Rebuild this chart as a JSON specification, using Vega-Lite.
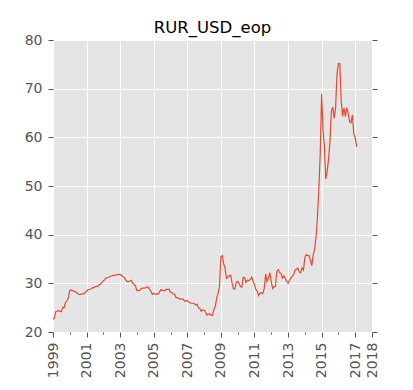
{
  "$schema": "https://vega.github.io/schema/vega-lite/v6.json",
  "autosize": {"type": "none"},
  "width": 319,
  "height": 292,
  "padding": {"left": 53, "top": 40, "right": 41, "bottom": 58},
  "background": "white",
  "config": {
    "font": "DejaVu Sans",
    "view": {"fill": "#E5E5E5", "stroke": null},
    "axis": {"domain": false, "gridColor": "white", "gridOpacity": 1, "gridWidth": 1, "tickColor": "#555555", "labelColor": "#555555", "labelFontSize": 14, "labelFont": "DejaVu Sans", "tickSize": 5}
  },
  "title": {"text": "RUR_USD_eop", "fontSize": 16.5, "fontWeight": "normal", "color": "black", "font": "DejaVu Sans", "anchor": "middle", "offset": 7, "dy": 10},
  "data": {"values": [
    {"d":"1999-01-01","v":22.6},{"d":"1999-02-01","v":22.86},{"d":"1999-03-01","v":24.18},{"d":"1999-04-01","v":24.23},{"d":"1999-05-01","v":24.44},{"d":"1999-06-01","v":24.22},{"d":"1999-07-01","v":24.19},{"d":"1999-08-01","v":25.08},{"d":"1999-09-01","v":25.08},{"d":"1999-10-01","v":26.05},{"d":"1999-11-01","v":26.42},{"d":"1999-12-01","v":27.0},
    {"d":"2000-01-01","v":28.55},{"d":"2000-02-01","v":28.66},{"d":"2000-03-01","v":28.46},{"d":"2000-04-01","v":28.4},{"d":"2000-05-01","v":28.26},{"d":"2000-06-01","v":28.07},{"d":"2000-07-01","v":27.8},{"d":"2000-08-01","v":27.75},{"d":"2000-09-01","v":27.75},{"d":"2000-10-01","v":27.84},{"d":"2000-11-01","v":27.85},{"d":"2000-12-01","v":28.16},
    {"d":"2001-01-01","v":28.37},{"d":"2001-02-01","v":28.72},{"d":"2001-03-01","v":28.73},{"d":"2001-04-01","v":28.84},{"d":"2001-05-01","v":29.07},{"d":"2001-06-01","v":29.07},{"d":"2001-07-01","v":29.27},{"d":"2001-08-01","v":29.37},{"d":"2001-09-01","v":29.39},{"d":"2001-10-01","v":29.7},{"d":"2001-11-01","v":29.88},{"d":"2001-12-01","v":30.14},
    {"d":"2002-01-01","v":30.54},{"d":"2002-02-01","v":30.76},{"d":"2002-03-01","v":31.12},{"d":"2002-04-01","v":31.17},{"d":"2002-05-01","v":31.25},{"d":"2002-06-01","v":31.45},{"d":"2002-07-01","v":31.53},{"d":"2002-08-01","v":31.63},{"d":"2002-09-01","v":31.64},{"d":"2002-10-01","v":31.69},{"d":"2002-11-01","v":31.86},{"d":"2002-12-01","v":31.78},
    {"d":"2003-01-01","v":31.82},{"d":"2003-02-01","v":31.61},{"d":"2003-03-01","v":31.39},{"d":"2003-04-01","v":31.17},{"d":"2003-05-01","v":30.69},{"d":"2003-06-01","v":30.35},{"d":"2003-07-01","v":30.35},{"d":"2003-08-01","v":30.48},{"d":"2003-09-01","v":30.61},{"d":"2003-10-01","v":29.96},{"d":"2003-11-01","v":29.79},{"d":"2003-12-01","v":29.45},
    {"d":"2004-01-01","v":28.49},{"d":"2004-02-01","v":28.52},{"d":"2004-03-01","v":28.53},{"d":"2004-04-01","v":28.9},{"d":"2004-05-01","v":29.03},{"d":"2004-06-01","v":29.03},{"d":"2004-07-01","v":29.08},{"d":"2004-08-01","v":29.24},{"d":"2004-09-01","v":29.22},{"d":"2004-10-01","v":28.79},{"d":"2004-11-01","v":28.32},{"d":"2004-12-01","v":27.75},
    {"d":"2005-01-01","v":27.97},{"d":"2005-02-01","v":27.78},{"d":"2005-03-01","v":27.82},{"d":"2005-04-01","v":27.8},{"d":"2005-05-01","v":28.1},{"d":"2005-06-01","v":28.67},{"d":"2005-07-01","v":28.61},{"d":"2005-08-01","v":28.49},{"d":"2005-09-01","v":28.5},{"d":"2005-10-01","v":28.79},{"d":"2005-11-01","v":28.71},{"d":"2005-12-01","v":28.78},
    {"d":"2006-01-01","v":28.12},{"d":"2006-02-01","v":28.12},{"d":"2006-03-01","v":27.76},{"d":"2006-04-01","v":27.73},{"d":"2006-05-01","v":27.07},{"d":"2006-06-01","v":27.08},{"d":"2006-07-01","v":26.85},{"d":"2006-08-01","v":26.74},{"d":"2006-09-01","v":26.78},{"d":"2006-10-01","v":26.75},{"d":"2006-11-01","v":26.34},{"d":"2006-12-01","v":26.33},
    {"d":"2007-01-01","v":26.53},{"d":"2007-02-01","v":26.11},{"d":"2007-03-01","v":26.01},{"d":"2007-04-01","v":25.93},{"d":"2007-05-01","v":25.91},{"d":"2007-06-01","v":25.82},{"d":"2007-07-01","v":25.53},{"d":"2007-08-01","v":25.71},{"d":"2007-09-01","v":24.95},{"d":"2007-10-01","v":24.79},{"d":"2007-11-01","v":24.28},{"d":"2007-12-01","v":24.55},
    {"d":"2008-01-01","v":24.48},{"d":"2008-02-01","v":24.12},{"d":"2008-03-01","v":23.52},{"d":"2008-04-01","v":23.63},{"d":"2008-05-01","v":23.74},{"d":"2008-06-01","v":23.45},{"d":"2008-07-01","v":23.37},{"d":"2008-08-01","v":24.61},{"d":"2008-09-01","v":25.25},{"d":"2008-10-01","v":26.99},{"d":"2008-11-01","v":27.93},{"d":"2008-12-01","v":29.38},
    {"d":"2009-01-01","v":35.41},{"d":"2009-02-01","v":35.72},{"d":"2009-03-01","v":34.01},{"d":"2009-04-01","v":33.17},{"d":"2009-05-01","v":31.01},{"d":"2009-06-01","v":31.29},{"d":"2009-07-01","v":31.58},{"d":"2009-08-01","v":31.66},{"d":"2009-09-01","v":30.09},{"d":"2009-10-01","v":28.85},{"d":"2009-11-01","v":28.87},{"d":"2009-12-01","v":30.24},
    {"d":"2010-01-01","v":30.42},{"d":"2010-02-01","v":29.95},{"d":"2010-03-01","v":29.36},{"d":"2010-04-01","v":29.21},{"d":"2010-05-01","v":31.19},{"d":"2010-06-01","v":31.2},{"d":"2010-07-01","v":30.19},{"d":"2010-08-01","v":30.66},{"d":"2010-09-01","v":30.55},{"d":"2010-10-01","v":30.82},{"d":"2010-11-01","v":31.29},{"d":"2010-12-01","v":30.48},
    {"d":"2011-01-01","v":29.68},{"d":"2011-02-01","v":28.69},{"d":"2011-03-01","v":28.43},{"d":"2011-04-01","v":27.5},{"d":"2011-05-01","v":27.99},{"d":"2011-06-01","v":28.08},{"d":"2011-07-01","v":27.85},{"d":"2011-08-01","v":28.93},{"d":"2011-09-01","v":31.88},{"d":"2011-10-01","v":30.32},{"d":"2011-11-01","v":31.13},{"d":"2011-12-01","v":32.2},
    {"d":"2012-01-01","v":30.36},{"d":"2012-02-01","v":28.95},{"d":"2012-03-01","v":29.33},{"d":"2012-04-01","v":29.36},{"d":"2012-05-01","v":32.45},{"d":"2012-06-01","v":32.82},{"d":"2012-07-01","v":32.2},{"d":"2012-08-01","v":32.06},{"d":"2012-09-01","v":31.09},{"d":"2012-10-01","v":31.53},{"d":"2012-11-01","v":31.03},{"d":"2012-12-01","v":30.37},
    {"d":"2013-01-01","v":30.03},{"d":"2013-02-01","v":30.63},{"d":"2013-03-01","v":31.08},{"d":"2013-04-01","v":31.42},{"d":"2013-05-01","v":31.74},{"d":"2013-06-01","v":32.71},{"d":"2013-07-01","v":32.9},{"d":"2013-08-01","v":33.14},{"d":"2013-09-01","v":32.35},{"d":"2013-10-01","v":32.16},{"d":"2013-11-01","v":33.17},{"d":"2013-12-01","v":32.73},
    {"d":"2014-01-01","v":35.24},{"d":"2014-02-01","v":35.93},{"d":"2014-03-01","v":35.69},{"d":"2014-04-01","v":35.7},{"d":"2014-05-01","v":34.74},{"d":"2014-06-01","v":33.63},{"d":"2014-07-01","v":35.73},{"d":"2014-08-01","v":37.0},{"d":"2014-09-01","v":39.38},{"d":"2014-10-01","v":43.39},{"d":"2014-11-01","v":49.32},{"d":"2014-12-01","v":56.26},
    {"d":"2015-01-01","v":68.93},{"d":"2015-02-01","v":61.28},{"d":"2015-03-01","v":58.46},{"d":"2015-04-01","v":51.45},{"d":"2015-05-01","v":52.97},{"d":"2015-06-01","v":55.52},{"d":"2015-07-01","v":58.99},{"d":"2015-08-01","v":65.41},{"d":"2015-09-01","v":66.24},{"d":"2015-10-01","v":63.88},{"d":"2015-11-01","v":66.06},{"d":"2015-12-01","v":72.88},
    {"d":"2016-01-01","v":75.17},{"d":"2016-02-01","v":75.1},{"d":"2016-03-01","v":67.61},{"d":"2016-04-01","v":64.31},{"d":"2016-05-01","v":66.04},{"d":"2016-06-01","v":64.26},{"d":"2016-07-01","v":66.09},{"d":"2016-08-01","v":64.87},{"d":"2016-09-01","v":63.16},{"d":"2016-10-01","v":62.99},{"d":"2016-11-01","v":64.63},{"d":"2016-12-01","v":60.66},
    {"d":"2017-01-01","v":59.96},{"d":"2017-02-01","v":58.05}
  ]},
  "layer": [
    {
      "mark": {"type": "line", "color": "#E24A33", "strokeWidth": 1.2, "clip": true},
      "encoding": {
        "x": {"field": "d", "type": "temporal",
          "scale": {"type": "utc", "domain": [{"year": 1999, "month": 1, "date": 1, "utc": true}, {"year": 2018, "month": 1, "date": 1, "utc": true}], "nice": false},
          "axis": {"orient": "bottom", "title": null, "grid": true, "format": "%Y", "labelAngle": 270, "labelAlign": "right", "labelBaseline": "middle", "labelPadding": 5, "labelFlush": false, "labelOverlap": false,
            "values": [
              {"year": 1999, "month": 1, "date": 1, "utc": true},
              {"year": 2001, "month": 1, "date": 1, "utc": true},
              {"year": 2003, "month": 1, "date": 1, "utc": true},
              {"year": 2005, "month": 1, "date": 1, "utc": true},
              {"year": 2007, "month": 1, "date": 1, "utc": true},
              {"year": 2009, "month": 1, "date": 1, "utc": true},
              {"year": 2011, "month": 1, "date": 1, "utc": true},
              {"year": 2013, "month": 1, "date": 1, "utc": true},
              {"year": 2015, "month": 1, "date": 1, "utc": true},
              {"year": 2017, "month": 1, "date": 1, "utc": true},
              {"year": 2018, "month": 1, "date": 1, "utc": true}
            ]}},
        "y": {"field": "v", "type": "quantitative",
          "scale": {"domain": [20, 80], "nice": false, "zero": false},
          "axis": {"orient": "left", "title": null, "grid": true, "values": [20, 30, 40, 50, 60, 70, 80], "labelPadding": 6, "labelFlush": false}}
      }
    },
    {
      "mark": {"type": "line", "strokeOpacity": 0},
      "encoding": {
        "x": {"field": "d", "type": "temporal",
          "scale": {"type": "utc", "domain": [{"year": 1999, "month": 1, "date": 1, "utc": true}, {"year": 2018, "month": 1, "date": 1, "utc": true}], "nice": false},
          "axis": {"orient": "bottom", "title": null, "grid": false, "labels": false, "tickSize": 2,
            "values": [
              {"year": 2000, "month": 1, "date": 1, "utc": true},
              {"year": 2002, "month": 1, "date": 1, "utc": true},
              {"year": 2004, "month": 1, "date": 1, "utc": true},
              {"year": 2006, "month": 1, "date": 1, "utc": true},
              {"year": 2008, "month": 1, "date": 1, "utc": true},
              {"year": 2010, "month": 1, "date": 1, "utc": true},
              {"year": 2012, "month": 1, "date": 1, "utc": true},
              {"year": 2014, "month": 1, "date": 1, "utc": true},
              {"year": 2016, "month": 1, "date": 1, "utc": true}
            ]}},
        "y": {"field": "v", "type": "quantitative",
          "scale": {"domain": [20, 80], "nice": false, "zero": false},
          "axis": {"orient": "right", "title": null, "grid": false, "labels": false, "values": [20, 30, 40, 50, 60, 70, 80]}}
      }
    }
  ],
  "resolve": {"axis": {"x": "independent", "y": "independent"}}
}
